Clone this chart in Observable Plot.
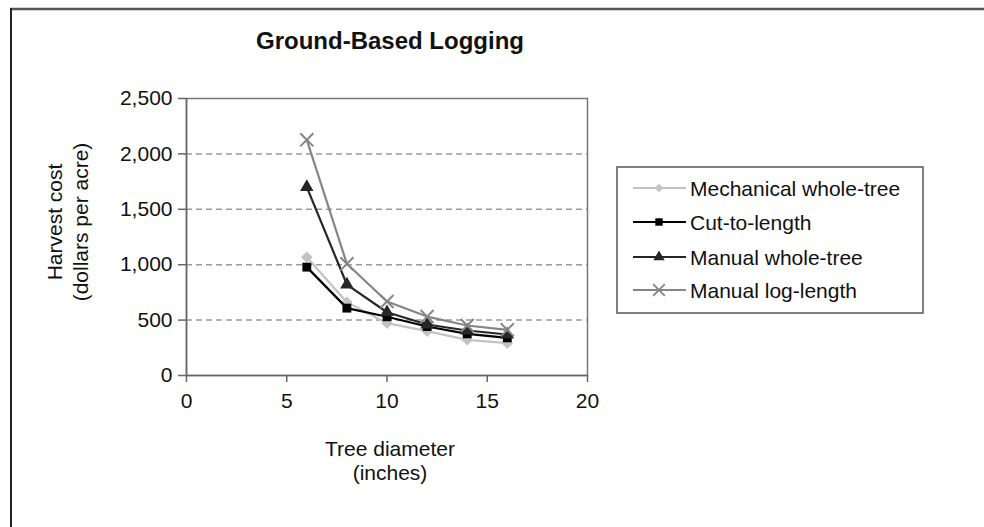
<!DOCTYPE html>
<html>
<head>
<meta charset="utf-8">
<script src="https://cdn.jsdelivr.net/npm/d3@7"></script>
<script src="https://cdn.jsdelivr.net/npm/@observablehq/plot@0.6"></script>
<style>
  html, body { margin: 0; padding: 0; background: #fff; }
  #chart { width: 984px; height: 527px; }
  svg { display: block; }
</style>
</head>
<body>
<div id="chart"></div>
<script>
// ---- Data ----
const titleText = "Ground-Based Logging";
const xLabelLines = ["Tree diameter", "(inches)"];
const yLabelLines = ["Harvest cost", "(dollars per acre)"];
const xTicks = [0, 5, 10, 15, 20];
const yTicks = [0, 500, 1000, 1500, 2000, 2500];
const diameters = [6, 8, 10, 12, 14, 16];
const seriesNames = ["Mechanical whole-tree", "Cut-to-length", "Manual whole-tree", "Manual log-length"];
const mechanicalWholeTree = [1068, 662, 472, 400, 322, 292];
const cutToLength = [978, 608, 530, 442, 376, 340];
const manualWholeTree = [1700, 821, 571, 460, 406, 370];
const manualLogLength = [2127, 1008, 668, 532, 451, 412];

// ---- Styles ----
const seriesValues = [mechanicalWholeTree, cutToLength, manualWholeTree, manualLogLength];
const seriesColors = ["#c3c3c3", "#000000", "#262626", "#858585"];
const seriesSymbols = ["diamond2", "square", "triangle", "times"];
const seriesR = [5.2, 5, 5, 6];
const font = "'Liberation Sans', Arial, sans-serif";

const rows = [];
seriesNames.forEach((name, i) => {
  diameters.forEach((d, j) => rows.push({series: name, diameter: d, cost: seriesValues[i][j]}));
});

const marks = [
  Plot.gridY(yTicks.filter(v => v > 0 && v < 2500), {stroke: "#9a9a9a", strokeOpacity: 1, strokeWidth: 1.5, strokeDasharray: "6,4"}),
  Plot.frame({stroke: "#777", strokeWidth: 1.5}),
  Plot.axisY({ticks: yTicks, tickSize: 8, tickPadding: 6, tickFormat: d3.format(","), label: null, fontSize: 21, stroke: "#666", strokeWidth: 1.5, fill: "#111"}),
  Plot.axisX({ticks: xTicks, tickSize: 7, tickPadding: 11, label: null, fontSize: 21, stroke: "#666", strokeWidth: 1.5, fill: "#111"}),
  Plot.ruleY([0], {stroke: "#666", strokeWidth: 1.5}),
  Plot.ruleX([0], {stroke: "#666", strokeWidth: 1.5})
];
seriesNames.forEach((name, i) => {
  const data = rows.filter(r => r.series === name);
  marks.push(Plot.line(data, {x: "diameter", y: "cost", stroke: seriesColors[i], strokeWidth: 2.2}));
  if (seriesSymbols[i] === "times") {
    marks.push(Plot.dot(data, {x: "diameter", y: "cost", symbol: seriesSymbols[i], r: seriesR[i], stroke: seriesColors[i], strokeWidth: 2}));
  } else {
    marks.push(Plot.dot(data, {x: "diameter", y: "cost", symbol: seriesSymbols[i], r: seriesR[i], fill: seriesColors[i], stroke: "none"}));
  }
});

const svgEl = Plot.plot({
  width: 984,
  height: 527,
  marginLeft: 186,
  marginRight: 397,
  marginTop: 98,
  marginBottom: 152,
  style: {fontFamily: font, fontSize: "21px", color: "#111", background: "#fff"},
  x: {domain: [0, 20]},
  y: {domain: [0, 2500]},
  marks
});
document.getElementById("chart").appendChild(svgEl);

// ---- Annotations ----
const svg = d3.select(svgEl);
// Outer frame (top and left edges visible)
svg.append("line").attr("x1", 10).attr("x2", 984).attr("y1", 9).attr("y2", 9).attr("stroke", "#555").attr("stroke-width", 2.5);
svg.append("line").attr("x1", 11).attr("x2", 11).attr("y1", 8).attr("y2", 527).attr("stroke", "#222").attr("stroke-width", 2);

svg.append("text").text(titleText)
  .attr("x", 390).attr("y", 49).attr("text-anchor", "middle")
  .attr("font-family", font).attr("font-size", 24).attr("font-weight", "bold").attr("fill", "#111");

svg.append("text").text(xLabelLines[0]).attr("x", 390).attr("y", 456).attr("text-anchor", "middle")
  .attr("font-family", font).attr("font-size", 21).attr("fill", "#111");
svg.append("text").text(xLabelLines[1]).attr("x", 390).attr("y", 480).attr("text-anchor", "middle")
  .attr("font-family", font).attr("font-size", 21).attr("fill", "#111");

svg.append("text").text(yLabelLines[0]).attr("transform", "translate(62,222) rotate(-90)").attr("text-anchor", "middle")
  .attr("font-family", font).attr("font-size", 21).attr("fill", "#111");
svg.append("text").text(yLabelLines[1]).attr("transform", "translate(88,222) rotate(-90)").attr("text-anchor", "middle")
  .attr("font-family", font).attr("font-size", 21).attr("fill", "#111");

// Legend
const lg = svg.append("g").attr("text-anchor", "start");
lg.append("rect").attr("x", 617).attr("y", 167).attr("width", 306).attr("height", 146)
  .attr("fill", "#fff").attr("stroke", "#555").attr("stroke-width", 1.5);
const legendY = [188, 222, 257, 290];
const d3Sym = {diamond2: d3.symbolDiamond2, square: d3.symbolSquare, triangle: d3.symbolTriangle, times: d3.symbolTimes};
const legendSize = [45, 55, 55, 90];
seriesNames.forEach((name, i) => {
  const y = legendY[i];
  lg.append("line").attr("x1", 633).attr("x2", 686).attr("y1", y).attr("y2", y)
    .attr("stroke", seriesColors[i]).attr("stroke-width", 2);
  const p = lg.append("path").attr("d", d3.symbol(d3Sym[seriesSymbols[i]], legendSize[i])())
    .attr("transform", `translate(659,${y})`);
  if (seriesSymbols[i] === "times") p.attr("fill", "none").attr("stroke", seriesColors[i]).attr("stroke-width", 1.8);
  else p.attr("fill", seriesColors[i]);
  lg.append("text").text(name).attr("x", 690).attr("y", y + 7.5).attr("text-anchor", "start")
    .attr("font-family", font).attr("font-size", 21).attr("fill", "#111");
});
</script>
</body>
</html>
